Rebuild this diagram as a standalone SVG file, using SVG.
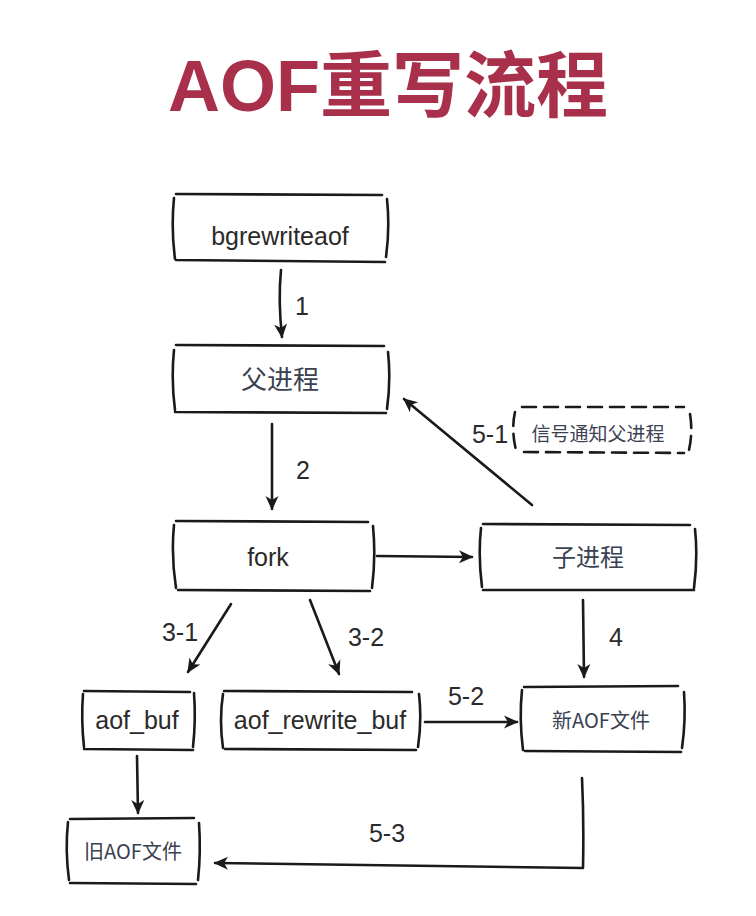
<svg xmlns="http://www.w3.org/2000/svg" width="756" height="916" viewBox="0 0 756 916">
<defs>
<style>
.box{fill:none;stroke:#1a1a1a;stroke-width:2.6;stroke-linecap:round;stroke-linejoin:round}
.dash{fill:none;stroke:#1a1a1a;stroke-width:2.6;stroke-dasharray:14 8;stroke-linecap:round}
.con{fill:none;stroke:#1a1a1a;stroke-width:2.6;stroke-linecap:round;stroke-linejoin:round}
.en{font-family:"Liberation Sans","DejaVu Sans",sans-serif;font-size:25px;fill:#2a2a2a;text-anchor:middle}
.cn{font-family:"Noto Sans CJK SC","Liberation Sans",sans-serif;font-size:24px;fill:#3a4150;text-anchor:middle}
.lbl{font-family:"Liberation Sans","DejaVu Sans",sans-serif;font-size:25px;fill:#2a2a2a;text-anchor:middle}
.title{font-family:"Liberation Sans","Noto Sans CJK SC",sans-serif;font-weight:bold;font-size:72px;fill:#a9304a;text-anchor:middle}
</style>
<marker id="ah" viewBox="0 0 12 12" refX="10" refY="6" markerWidth="6" markerHeight="6" orient="auto" markerUnits="strokeWidth">
<path d="M0,1 L11,6 L0,11 L3,6 Z" fill="#1a1a1a"/>
</marker>
</defs>
<rect width="756" height="916" fill="#ffffff"/>
<text class="title" x="388" y="111">AOF重写流程</text>

<g id="node-bgrewriteaof">
<path class="box" d="M176,194 L382,195 M174,198 Q171,228 175,259 M176,260 L385,262 M387,199 Q390,228 386,257"/>
<text class="en" x="280" y="245">bgrewriteaof</text>
</g>
<g id="node-parent">
<path class="box" d="M176,345 L384,346 M174,350 Q171,380 175,410 M175,412 L386,413 M388,352 Q391,380 387,409"/>
<text class="cn" x="280" y="389" style="font-size:26px">父进程</text>
</g>
<g id="node-signal">
<path class="dash" d="M522,407 L684,407 M515,412 Q511,430 516,450 M524,452 L684,453 M690,414 Q693,432 689,450"/>
<text class="cn" x="598" y="441" style="font-size:19px">信号通知父进程</text>
</g>
<g id="node-fork">
<path class="box" d="M176,521 L368,522 M174,525 Q171,555 176,588 M178,590 L370,591 M373,526 Q376,557 372,588"/>
<text class="en" x="268" y="566">fork</text>
</g>
<g id="node-child">
<path class="box" d="M483,524 L690,525 M481,528 Q478,556 482,587 M483,590 L694,590 M695,529 Q698,557 694,588"/>
<text class="cn" x="588" y="566">子进程</text>
</g>
<g id="node-aofbuf">
<path class="box" d="M84,691 L190,692 M83,694 Q81,720 84,747 M84,749 L193,750 M194,693 Q196,720 193,747"/>
<text class="en" x="137" y="729">aof_buf</text>
</g>
<g id="node-rewritebuf">
<path class="box" d="M224,691 L412,692 M223,694 Q219,720 223,748 M225,749 L416,750 M419,694 Q422,720 418,747"/>
<text class="en" x="320" y="729">aof_rewrite_buf</text>
</g>
<g id="node-newaof">
<path class="box" d="M524,687 L678,686 M522,690 Q519,718 523,750 M525,751 L681,752 M684,692 Q686,720 682,748"/>
<text class="cn" x="601" y="728" style="font-size:20px">新AOF文件</text>
</g>
<g id="node-oldaof">
<path class="box" d="M70,819 L194,818 M68,822 Q65,850 69,880 M70,883 L196,884 M199,823 Q201,852 198,880"/>
<text class="cn" x="133" y="859" style="font-size:20px">旧AOF文件</text>
</g>

<g id="connectors">
<path class="con" d="M281,270 Q278,300 282,337" marker-end="url(#ah)"/>
<path class="con" d="M272,424 L272,509" marker-end="url(#ah)"/>
<path class="con" d="M377,556 L472,557" marker-end="url(#ah)"/>
<path class="con" d="M532,505 L404,399" marker-end="url(#ah)"/>
<path class="con" d="M231,604 L188,672" marker-end="url(#ah)"/>
<path class="con" d="M310,600 L339,674" marker-end="url(#ah)"/>
<path class="con" d="M583,600 L584,677" marker-end="url(#ah)"/>
<path class="con" d="M425,722 L517,722" marker-end="url(#ah)"/>
<path class="con" d="M137,756 L138,813" marker-end="url(#ah)"/>
<path class="con" d="M582,778 Q584,820 583,868 L215,863" marker-end="url(#ah)"/>
<text class="lbl" x="302" y="315">1</text>
<text class="lbl" x="303" y="479">2</text>
<text class="lbl" x="490" y="443">5-1</text>
<text class="lbl" x="180" y="641">3-1</text>
<text class="lbl" x="366" y="646">3-2</text>
<text class="lbl" x="616" y="646">4</text>
<text class="lbl" x="466" y="705">5-2</text>
<text class="lbl" x="387" y="842">5-3</text>
</g>
</svg>
